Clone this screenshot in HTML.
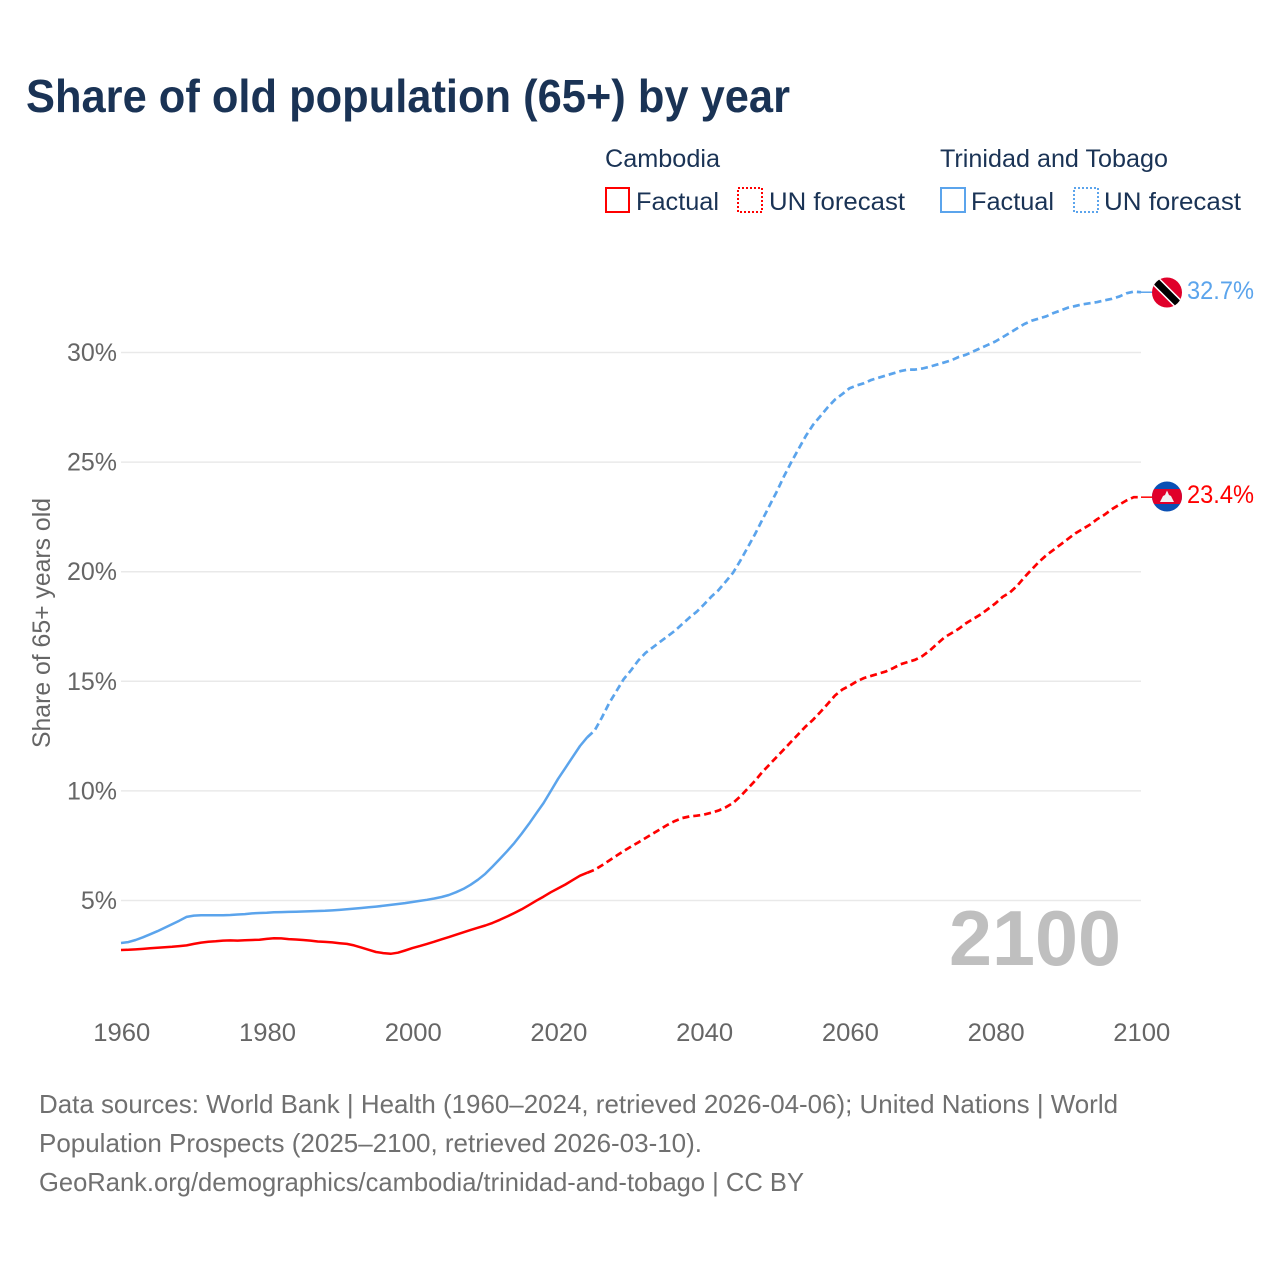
<!DOCTYPE html>
<html lang="en">
<head>
<meta charset="utf-8">
<title>Share of old population (65+) by year</title>
<style>
html,body{margin:0;padding:0;background:#fff;}
svg{display:block;font-family:"Liberation Sans",sans-serif;}
</style>
</head>
<body>
<svg id="chart" xmlns="http://www.w3.org/2000/svg" width="1280" height="1280" viewBox="0 0 1280 1280">
  <defs>
    <clipPath id="clip-tt"><circle cx="1167" cy="292.5" r="15"/></clipPath>
    <clipPath id="clip-kh"><circle cx="1167" cy="496.5" r="15"/></clipPath>
  </defs>
  <rect x="0" y="0" width="1280" height="1280" fill="#fff"/>
  <text x="26" y="112" font-size="46" font-weight="700" fill="#1a3355" textLength="764" lengthAdjust="spacingAndGlyphs">Share of old population (65+) by year</text>

  <g font-size="25" fill="#1a3355">
    <text x="605" y="167" textLength="115" lengthAdjust="spacingAndGlyphs">Cambodia</text>
    <text x="940" y="167" textLength="228" lengthAdjust="spacingAndGlyphs">Trinidad and Tobago</text>
    <rect x="606" y="188" width="23" height="24" fill="none" stroke="#ff0000" stroke-width="2"/>
    <text x="636" y="210" textLength="83" lengthAdjust="spacingAndGlyphs">Factual</text>
    <rect x="738" y="188" width="24" height="24" fill="none" stroke="#ff0000" stroke-width="2" stroke-dasharray="2 2"/>
    <text x="769" y="210" textLength="136" lengthAdjust="spacingAndGlyphs">UN forecast</text>
    <rect x="941" y="188" width="24" height="24" fill="none" stroke="#5ba4ec" stroke-width="2"/>
    <text x="971" y="210" textLength="83" lengthAdjust="spacingAndGlyphs">Factual</text>
    <rect x="1074" y="188" width="24" height="24" fill="none" stroke="#5ba4ec" stroke-width="2" stroke-dasharray="2 2"/>
    <text x="1104" y="210" textLength="137" lengthAdjust="spacingAndGlyphs">UN forecast</text>
  </g>

  <g id="grid"></g>
  <g id="y-ticks" font-size="25" fill="#666"></g>
  <g id="x-ticks" font-size="25" fill="#666"></g>
  <text transform="translate(50,748) rotate(-90)" font-size="25" fill="#666" textLength="250" lengthAdjust="spacingAndGlyphs">Share of 65+ years old</text>
  <text x="949" y="965" font-size="78" font-weight="700" fill="#bfbfbf" textLength="172" lengthAdjust="spacingAndGlyphs">2100</text>

  <g id="series"></g>

  <g clip-path="url(#clip-tt)">
    <rect x="1150" y="275" width="34" height="35" fill="#e0002a"/>
    <line x1="1150" y1="275.5" x2="1184" y2="309.5" stroke="#fff" stroke-width="10"/>
    <line x1="1150" y1="275.5" x2="1184" y2="309.5" stroke="#000" stroke-width="7"/>
  </g>
  <g clip-path="url(#clip-kh)">
    <rect x="1150" y="479" width="34" height="35" fill="#0a50b4"/>
    <rect x="1150" y="489" width="34" height="15" fill="#e0002a"/>
    <polygon points="1160,502 1163,496 1165,495 1167,490.5 1169,495 1171,496 1174,502" fill="#f2f2f2"/>
  </g>
  <text id="label-tt" x="1187" y="299" font-size="25" fill="#5ba4ec" textLength="67" lengthAdjust="spacingAndGlyphs">32.7%</text>
  <text id="label-kh" x="1187" y="503" font-size="25" fill="#ff0000" textLength="67" lengthAdjust="spacingAndGlyphs">23.4%</text>

  <g font-size="26" fill="#707070">
    <text x="39" y="1113" textLength="1079" lengthAdjust="spacingAndGlyphs">Data sources: World Bank | Health (1960–2024, retrieved 2026-04-06); United Nations | World</text>
    <text x="39" y="1152" textLength="663" lengthAdjust="spacingAndGlyphs">Population Prospects (2025–2100, retrieved 2026-03-10).</text>
    <text x="39" y="1191" textLength="765" lengthAdjust="spacingAndGlyphs">GeoRank.org/demographics/cambodia/trinidad-and-tobago | CC BY</text>
  </g>
</svg>
<script>
const yTickValues = [5, 10, 15, 20, 25, 30];
const xTickYears = [1960, 1980, 2000, 2020, 2040, 2060, 2080, 2100];
const factualStartYear = 1960;
const forecastStartYear = 2024;
const cambodiaFactual = [
  2.74,2.75,2.77,2.79,2.82,2.84,2.87,2.89,2.92,2.95,
  3.02,3.08,3.12,3.14,3.17,3.18,3.17,3.19,3.20,3.21,
  3.25,3.28,3.27,3.24,3.22,3.20,3.17,3.13,3.11,3.09,
  3.05,3.02,2.95,2.85,2.75,2.65,2.60,2.57,2.62,2.72,
  2.83,2.92,3.02,3.12,3.23,3.33,3.44,3.55,3.66,3.76,
  3.86,3.98,4.12,4.27,4.43,4.60,4.79,4.99,5.18,5.38,
  5.55,5.73,5.93,6.13,6.27
];
const cambodiaForecast = [
  6.27,6.40,6.60,6.82,7.04,7.26,7.46,7.65,7.85,8.05,8.25,8.45,8.62,8.76,8.83,8.87,
  8.92,9.00,9.10,9.25,9.45,9.75,10.1,10.45,10.85,11.2,
  11.55,11.9,12.25,12.6,12.95,13.25,13.6,13.97,14.35,14.62,
  14.8,15.0,15.15,15.25,15.35,15.45,15.6,15.78,15.88,15.98,
  16.15,16.4,16.7,17.0,17.2,17.4,17.65,17.85,18.05,18.3,
  18.55,18.85,19.05,19.35,19.75,20.1,20.45,20.75,21.0,21.25,
  21.5,21.75,21.95,22.15,22.4,22.6,22.85,23.05,23.25,23.4,
  23.4
];
const trinidadFactual = [
  3.06,3.10,3.20,3.32,3.46,3.60,3.76,3.92,4.08,4.25,
  4.31,4.33,4.33,4.33,4.33,4.34,4.36,4.38,4.41,4.43,
  4.44,4.46,4.47,4.48,4.49,4.50,4.51,4.52,4.53,4.55,
  4.57,4.60,4.63,4.66,4.69,4.72,4.76,4.80,4.84,4.88,
  4.93,4.98,5.03,5.09,5.16,5.25,5.38,5.53,5.72,5.95,
  6.22,6.55,6.90,7.25,7.63,8.05,8.50,8.98,9.45,10.0,
  10.55,11.05,11.55,12.05,12.45
];
const trinidadForecast = [
  12.45,12.75,13.35,14.0,14.55,15.1,15.5,15.95,16.3,16.55,16.8,17.05,17.3,17.6,17.9,18.17,
  18.5,18.85,19.15,19.55,19.95,20.5,21.1,21.7,22.35,23.0,
  23.65,24.35,25.0,25.6,26.2,26.7,27.1,27.5,27.85,28.1,
  28.37,28.5,28.6,28.75,28.85,28.95,29.05,29.15,29.22,29.22,
  29.27,29.35,29.45,29.55,29.65,29.8,29.9,30.05,30.2,30.35,
  30.5,30.7,30.9,31.1,31.3,31.45,31.55,31.65,31.8,31.92,
  32.05,32.12,32.2,32.25,32.3,32.38,32.45,32.55,32.7,32.78,
  32.75
];

const NS = 'http://www.w3.org/2000/svg';
const xScale = year => 121 + (year - 1960) * (1141 - 121) / 140;
const yScale = pct => 900.5 - (pct - 5) * (900.5 - 352.5) / 25;
const pointsFor = (start, values) => values.map((v, i) => xScale(start + i).toFixed(1) + ',' + yScale(v).toFixed(1)).join(' ');

const grid = document.getElementById('grid');
const yTicks = document.getElementById('y-ticks');
const xTicks = document.getElementById('x-ticks');
const series = document.getElementById('series');

yTickValues.forEach(v => {
  const line = document.createElementNS(NS, 'line');
  
  
  line.setAttribute('x1', 121);
  line.setAttribute('x2', 1141);
  line.setAttribute('y1', yScale(v));
  line.setAttribute('y2', yScale(v));
  line.setAttribute('stroke', '#e9e9e9');
  line.setAttribute('stroke-width', '1.5');
  grid.appendChild(line);
  const t = document.createElementNS(NS, 'text');
  
  
  t.setAttribute('x', 117);
  t.setAttribute('y', yScale(v) + 8.5);
  t.setAttribute('text-anchor', 'end');
  t.textContent = v + '%';
  yTicks.appendChild(t);
});

xTickYears.forEach(y => {
  const t = document.createElementNS(NS, 'text');
  
  
  t.setAttribute('x', xScale(y) + 0.8);
  t.setAttribute('y', 1041);
  t.setAttribute('text-anchor', 'middle');
  t.setAttribute('textLength', '57');
  t.setAttribute('lengthAdjust', 'spacingAndGlyphs');
  t.textContent = y;
  xTicks.appendChild(t);
});

function drawLine(name, start, values, color, dashed) {
  const p = document.createElementNS(NS, 'polyline');
  
  
  p.setAttribute('points', pointsFor(start, values));
  p.setAttribute('fill', 'none');
  p.setAttribute('stroke', color);
  p.setAttribute('stroke-width', dashed ? '2.7' : '2.5');
  p.setAttribute('stroke-linejoin', 'round');
  if (dashed) p.setAttribute('stroke-dasharray', '7 4');
  series.appendChild(p);
}
function drawConnector(name, lastValue, color) {
  const c = document.createElementNS(NS, 'line');
  
  
  c.setAttribute('x1', xScale(2100));
  c.setAttribute('x2', 1155);
  c.setAttribute('y1', yScale(lastValue));
  c.setAttribute('y2', yScale(lastValue));
  c.setAttribute('stroke', color);
  c.setAttribute('stroke-width', '1.5');
  series.appendChild(c);
}
drawLine('trinidad-factual-line', factualStartYear, trinidadFactual, '#5ba4ec', false);
drawLine('trinidad-forecast-line', forecastStartYear, trinidadForecast, '#5ba4ec', true);
drawConnector('trinidad-flag-connector', trinidadForecast[trinidadForecast.length - 1], '#5ba4ec');
drawLine('cambodia-factual-line', factualStartYear, cambodiaFactual, '#ff0000', false);
drawLine('cambodia-forecast-line', forecastStartYear, cambodiaForecast, '#ff0000', true);
drawConnector('cambodia-flag-connector', cambodiaForecast[cambodiaForecast.length - 1], '#ff0000');
</script>
</body>
</html>
